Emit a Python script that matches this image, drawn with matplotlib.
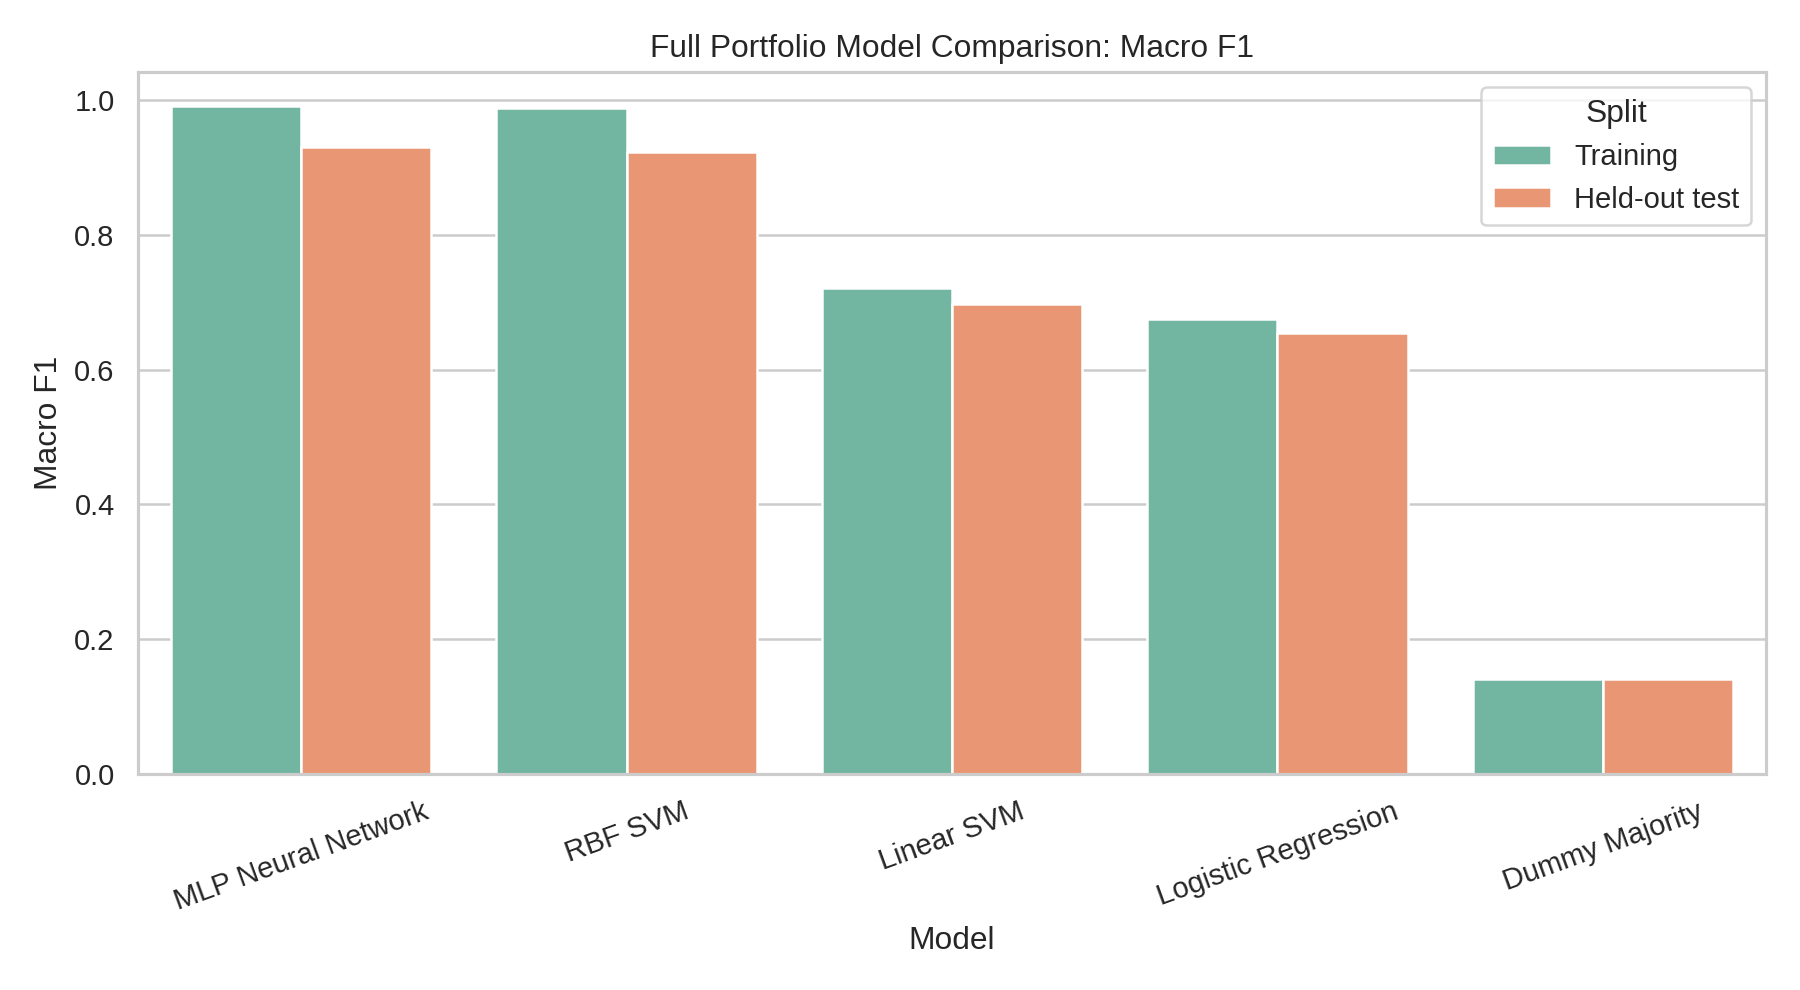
import matplotlib
matplotlib.use("Agg")
import matplotlib.pyplot as plt
import pandas as pd
import seaborn as sns

models = ["MLP Neural Network", "RBF SVM", "Linear SVM", "Logistic Regression", "Dummy Majority"]
train_f1 = [0.992, 0.989, 0.721, 0.675, 0.141]
test_f1 = [0.931, 0.923, 0.698, 0.654, 0.141]
splits = ["Training", "Held-out test"]

df = pd.DataFrame({
    "Model": models * 2,
    "Macro F1": train_f1 + test_f1,
    "Split": [splits[0]] * len(models) + [splits[1]] * len(models),
})

sns.set_theme(style="whitegrid", font_scale=1.06)
plt.rcParams["font.family"] = ["Liberation Sans", "DejaVu Sans"]

fig, ax = plt.subplots(figsize=(10, 5.5), dpi=180)
sns.barplot(data=df, x="Model", y="Macro F1", hue="Split", palette="Set2", ax=ax)
ax.set_title("Full Portfolio Model Comparison: Macro F1")
ax.tick_params(axis="x", rotation=20)
ax.legend(title="Split")
plt.tight_layout()
plt.savefig("out.png", dpi=180)
